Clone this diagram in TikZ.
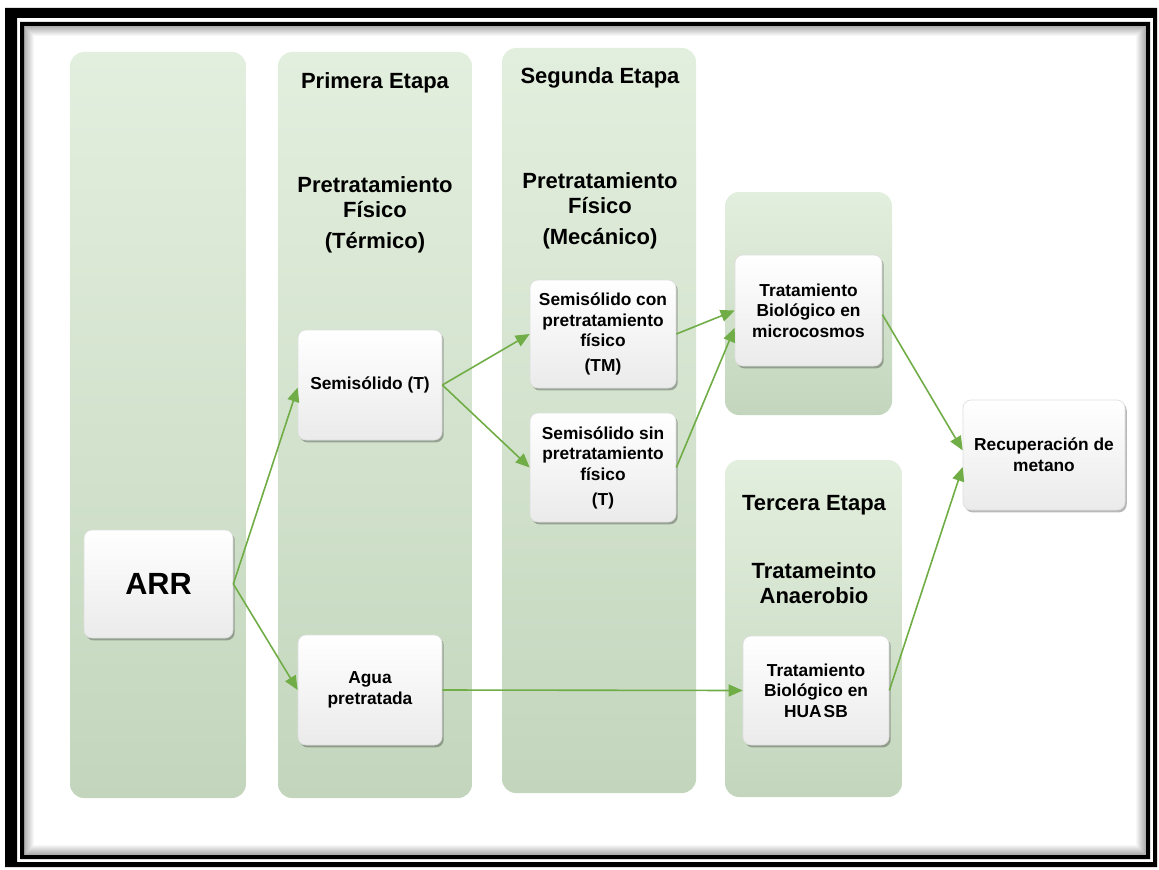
\documentclass[tikz,border=0pt]{standalone}
\usepackage{fontspec}
\setmainfont{Liberation Sans}
\usetikzlibrary{arrows.meta,shadows}
\definecolor{panelTop}{HTML}{E3EFDE}
\definecolor{panelBot}{HTML}{C3D6BD}
\definecolor{flowGreen}{HTML}{70AD47}
\begin{document}
\begin{tikzpicture}[x=0.75pt,y=-0.75pt,
  panel/.style={rounded corners=10.5pt, top color=panelTop, bottom color=panelBot},
  box/.style={rounded corners=6pt, draw=black!13, line width=0.5pt,
    top color=white, middle color=white, bottom color=black!8,
    align=center, inner sep=2pt,
    font=\bfseries\fontsize{13}{15.5}\selectfont,
    drop shadow={shadow xshift=1.3pt, shadow yshift=-1.8pt, fill=black, opacity=0.28}},
  title/.style={align=center, inner sep=0pt,
    font=\bfseries\fontsize{16.5}{18.8}\selectfont},
  flow/.style={draw=flowGreen, line width=1.2pt,
    -{Triangle[length=10.5pt,width=9pt]}}]

\useasboundingbox (0,0) rectangle (1159,870);

% double black frame
\fill[black, even odd rule] (5,8) rectangle (1157,867) (17,18) rectangle (1153,862);
\fill[black, even odd rule] (20,22) rectangle (1150,859) (24,26) rectangle (1146,855);
% soft inner shadow of the frame
\foreach \i in {0,...,9}{
  \pgfmathsetmacro\op{0.32*(1-\i/10)}
  \draw[black, line width=0.75pt, draw opacity=\op]
    (24.5+\i,26.5+\i) rectangle (1145.5-\i,854.5-\i);
}

% stage panels
\path[panel] (70,52) rectangle (246,798);
\path[panel] (278,52) rectangle (472,798);
\path[panel] (502,48) rectangle (696,793);
\path[panel] (725,192) rectangle (892,415);
\path[panel] (725,460) rectangle (902,797);

% panel titles
\node[title] (etapa1) at (375,83) {Primera Etapa};
\node[title] (pre1) at (375,197) {Pretratamiento\\Físico};
\node[title] (term) at (375,243) {(Térmico)};
\node[title] (etapa2) at (600,78) {Segunda Etapa};
\node[title] (pre2) at (600,193) {Pretratamiento\\Físico};
\node[title] (mec) at (600,239) {(Mecánico)};
\node[title] (etapa3) at (814,505) {Tercera Etapa};
\node[title] (anae) at (814,583) {Tratameinto\\Anaerobio};

% process boxes
\node[box, minimum width=111.75pt, minimum height=81pt,
  font=\bfseries\fontsize{23}{26}\selectfont] (arr) at (158.5,584) {ARR};
\node[box, minimum width=108pt, minimum height=82.5pt] (semi) at (370,385) {Semisólido (T)};
\node[box, minimum width=108pt, minimum height=82.5pt] (agua) at (370,690) {Agua\\pretratada};
\node[box, minimum width=109.5pt, minimum height=81pt] (con) at (603,334)
  {Semisólido con\\pretratamiento\\físico\\[3pt](TM)};
\node[box, minimum width=109.5pt, minimum height=81.75pt] (sin) at (603,467.5)
  {Semisólido sin\\pretratamiento\\físico\\[3pt](T)};
\node[box, minimum width=110.25pt, minimum height=83.25pt] (micro) at (808.5,310.5)
  {Tratamiento\\Biológico en\\microcosmos};
\node[box, minimum width=121.5pt, minimum height=82.5pt] (recup) at (1044,455)
  {Recuperación de\\metano};
\node[box, minimum width=109.5pt, minimum height=81.75pt] (huasb) at (816,690.5)
  {Tratamiento\\Biológico en\\HUA\kern1.5pt SB};

% connectors
\draw[flow] (arr.east) -- ([yshift=-2pt]semi.west);
\draw[flow] (arr.east) -- (agua.west);
\draw[flow] (semi.east) -- (con.west);
\draw[flow] (semi.east) -- (sin.west);
\draw[flow] (con.east) -- (micro.west);
\draw[flow] (sin.east) -- ([yshift=-13pt]micro.west);
\draw[flow] ([yshift=-3pt]micro.east) -- ([yshift=3.5pt]recup.west);
\draw[flow] (huasb.east) -- ([yshift=-9pt]recup.west);
\draw[flow] (agua.east) -- (huasb.west);
\end{tikzpicture}
\end{document}
